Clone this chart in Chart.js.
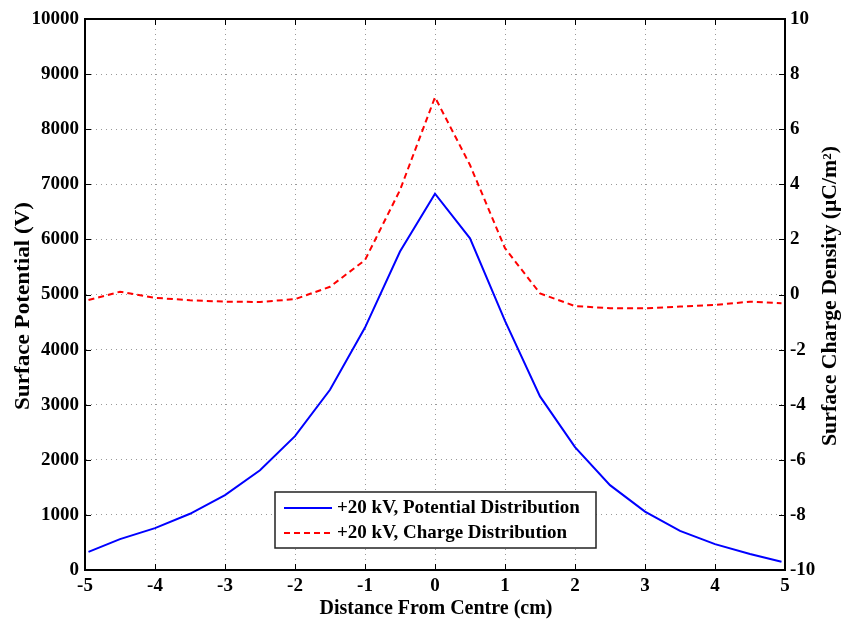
<!DOCTYPE html>
<html>
<head>
<meta charset="utf-8">
<script src="https://cdn.jsdelivr.net/npm/chart.js@4.4.0/dist/chart.umd.min.js"></script>
<style>
  body { margin: 0; background: #fff; }
  #wrap { width: 848px; height: 627px; }
</style>
</head>
<body>
<div id="wrap"><canvas id="canvas"></canvas></div>
<script>
// distance from centre (cm)
var xs = [-4.95, -4.5, -4, -3.5, -3, -2.5, -2, -1.5, -1, -0.5, 0, 0.5, 1, 1.5, 2, 2.5, 3, 3.5, 4, 4.5, 4.95];
// surface potential (V)
var potential = [330, 560, 760, 1020, 1360, 1810, 2430, 3270, 4400, 5780, 6830, 6020, 4520, 3150, 2230, 1540, 1060, 710, 470, 290, 150];
// surface charge density (uC/m2)
var charge = [-0.2, 0.1, -0.12, -0.21, -0.26, -0.27, -0.17, 0.28, 1.25, 3.79, 7.16, 4.7, 1.68, 0.04, -0.42, -0.5, -0.5, -0.44, -0.38, -0.26, -0.32];

var labelPot = '+20 kV, Potential Distribution';
var labelChg = '+20 kV, Charge Distribution';
var titleX = 'Distance From Centre (cm)';
var titleY = 'Surface Potential (V)';
var titleY2 = 'Surface Charge Density (\u03bcC/m\u00b2)';

function pts(ys) {
    return xs.map(function (x, i) { return { x: x, y: ys[i] }; });
}

var serif = "'Liberation Serif', 'Times New Roman', serif";
var tickFont = { family: serif, size: 19, weight: 'bold' };

// vertical text, stretched along its length to a given span
function vText(c, txt, cx, cy, span) {
    c.save();
    c.translate(cx, cy);
    c.rotate(-Math.PI / 2);
    var w = c.measureText(txt).width;
    c.scale(span / w, 1);
    c.fillText(txt, 0, 0);
    c.restore();
}

// matlab style frame: inward ticks, top border, titles, legend box
var frame = {
    id: 'frame',
    afterDraw: function (chart) {
        var c = chart.ctx, a = chart.chartArea;
        var sx = chart.scales.x, sy = chart.scales.y, sy2 = chart.scales.y2;
        c.save();
        c.strokeStyle = '#000';
        c.lineWidth = 1;
        c.beginPath();
        sx.ticks.forEach(function (t) {
            var p = Math.round(sx.getPixelForValue(t.value)) + 0.5;
            c.moveTo(p, a.bottom); c.lineTo(p, a.bottom - 6);
            c.moveTo(p, a.top); c.lineTo(p, a.top + 6);
        });
        sy.ticks.forEach(function (t) {
            var p = Math.round(sy.getPixelForValue(t.value)) + 0.5;
            c.moveTo(a.left, p); c.lineTo(a.left + 6, p);
        });
        sy2.ticks.forEach(function (t) {
            var p = Math.round(sy2.getPixelForValue(t.value)) + 0.5;
            c.moveTo(a.right, p); c.lineTo(a.right - 6, p);
        });
        c.stroke();
        c.lineWidth = 2;
        c.beginPath();
        c.moveTo(a.left, a.top); c.lineTo(a.right, a.top);
        c.stroke();

        // axis titles
        c.fillStyle = '#000';
        c.textAlign = 'center';
        c.textBaseline = 'middle';
        c.font = 'bold 20px ' + serif;
        c.fillText(titleX, 436, 609);
        vText(c, titleY2, 831, 296, 300);
        c.font = 'bold 21px ' + serif;
        vText(c, titleY, 24, 306, 208);

        // legend
        var bx = 275, by = 492, bw = 321, bh = 56;
        c.fillStyle = '#fff';
        c.fillRect(bx, by, bw, bh);
        c.strokeStyle = '#222';
        c.lineWidth = 1.5;
        c.strokeRect(bx, by, bw, bh);
        c.lineWidth = 2;
        c.strokeStyle = '#0000ff';
        c.beginPath(); c.moveTo(284, 508); c.lineTo(332, 508); c.stroke();
        c.strokeStyle = '#ff0000';
        c.setLineDash([6, 4]);
        c.beginPath(); c.moveTo(284, 533); c.lineTo(332, 533); c.stroke();
        c.setLineDash([]);
        c.fillStyle = '#000';
        c.font = 'bold 19px ' + serif;
        c.textAlign = 'left';
        c.fillText(labelPot, 337, 508);
        c.fillText(labelChg, 337, 533);
        c.restore();
    }
};

function plain(v) { return String(v); }

var config = {
    type: 'scatter',
    data: {
        datasets: [
            {
                label: labelPot,
                data: pts(potential),
                showLine: true,
                borderColor: '#0000ff',
                borderWidth: 2,
                pointRadius: 0,
                yAxisID: 'y'
            },
            {
                label: labelChg,
                data: pts(charge),
                showLine: true,
                borderColor: '#ff0000',
                borderWidth: 2,
                borderDash: [6, 4],
                pointRadius: 0,
                yAxisID: 'y2'
            }
        ]
    },
    options: {
        responsive: true,
        maintainAspectRatio: false,
        animation: false,
        layout: { padding: { top: 19, right: 0, left: 0, bottom: 0 } },
        plugins: {
            legend: { display: false },
            tooltip: { enabled: false }
        },
        scales: {
            x: {
                type: 'linear',
                min: -5, max: 5,
                afterFit: function (s) { s.height = 57; },
                ticks: { stepSize: 1, color: '#000', padding: 5, font: tickFont, callback: plain },
                grid: { color: '#999', drawTicks: false, lineWidth: 1 },
                border: { color: '#000', width: 2, dash: [1, 4] }
            },
            y: {
                position: 'left',
                min: 0, max: 10000,
                afterFit: function (s) { s.width = 85; },
                ticks: { stepSize: 1000, color: '#000', padding: 6, font: tickFont, callback: plain },
                grid: { color: '#999', drawTicks: false, lineWidth: 1 },
                border: { color: '#000', width: 2, dash: [1, 4] }
            },
            y2: {
                position: 'right',
                min: -10, max: 10,
                afterFit: function (s) { s.width = 63; },
                ticks: { stepSize: 2, color: '#000', padding: 5, font: tickFont, callback: plain },
                grid: { display: false, drawTicks: false },
                border: { color: '#000', width: 2 }
            }
        }
    },
    plugins: [frame]
};

window.onload = function () {
    var ctx = document.getElementById('canvas').getContext('2d');
    window.myLine = new Chart(ctx, config);
};
</script>
</body>
</html>
